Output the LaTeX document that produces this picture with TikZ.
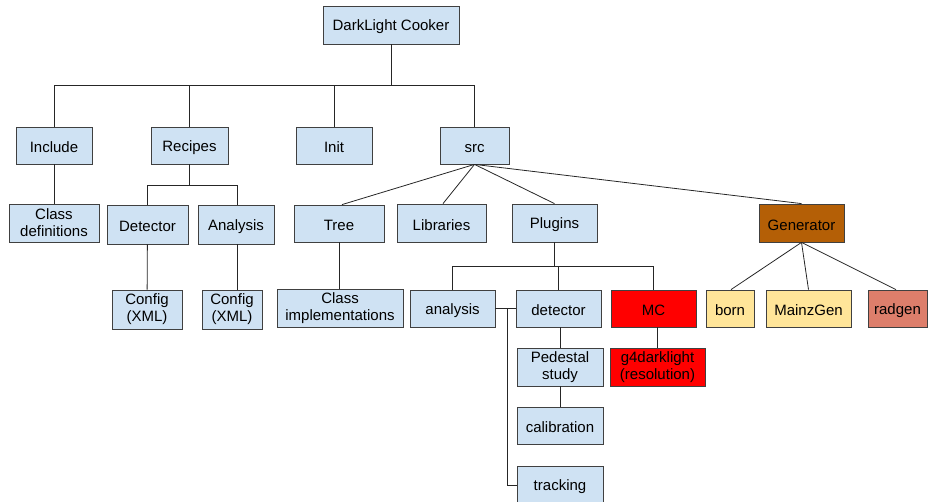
\documentclass[tikz,border=0pt]{standalone}
\usepackage{fontspec}
\setmainfont{Liberation Sans}

\definecolor{boxblue}{HTML}{CFE2F3}
\definecolor{genbrown}{HTML}{B45F06}
\definecolor{genyellow}{HTML}{FFE599}
\definecolor{gensalmon}{HTML}{DD7E6B}
\definecolor{mcred}{HTML}{FF0000}

\tikzset{
  box/.style={draw=black!75, fill=boxblue, minimum height=37pt, inner sep=1pt,
    align=center, font=\fontsize{15}{17}\selectfont,
    execute at begin node={\rule{0pt}{14.5pt}}},
  link/.style={draw=black!85, line width=0.8pt}
}

\begin{document}
\begin{tikzpicture}[x=1pt, y=-1pt, line width=0.8pt]
    \useasboundingbox (0,0) rectangle (928,502);
    % ---------------------------------------------
    \node[box, minimum width=136pt, minimum height=38pt] (cooker) at (391,25) {DarkLight Cooker};

    % top level folders
    \node[box, minimum width=76pt] (include) at (54,145.5) {Include};
    \node[box, minimum width=77pt] (recipes) at (189.5,145.5) {Recipes};
    \node[box, minimum width=76pt] (init) at (334,145.5) {Init};
    \node[box, minimum width=69pt] (src) at (474.5,145.5) {src};
    \coordinate (topbar) at (391,85);

    % include and recipes
    \node[box, minimum width=90pt, minimum height=38pt] (classdef) at (54,223) {Class\\definitions};
    \node[box, minimum width=81pt, minimum height=39pt] (detector) at (147.5,224.5) {Detector};
    \node[box, minimum width=76pt, minimum height=39pt] (analysis) at (236,224.5) {Analysis};
    \node[box, minimum width=70pt, minimum height=39pt] (configdet) at (147,309.5) {Config\\(XML)};
    \node[box, minimum width=60pt, minimum height=39pt] (configana) at (232,309.5) {Config\\(XML)};
    \coordinate (recbar) at (189.5,185);

    % src
    \node[box, minimum width=90pt] (tree) at (339,223.5) {Tree};
    \node[box, minimum width=89pt, minimum height=38pt] (libraries) at (441.5,223) {Libraries};
    \node[box, minimum width=85pt, minimum height=38pt] (plugins) at (554.5,223) {Plugins};
    \node[box, fill=genbrown, minimum width=85pt, minimum height=38pt] (generator) at (801.5,223) {Generator};
    \node[box, minimum width=126pt, minimum height=38pt] (classimpl) at (340,308) {Class\\implementations};

    % plugins
    \node[box, minimum width=85pt] (plugana) at (452.5,308.5) {analysis};
    \node[box, minimum width=85pt] (plugdet) at (558.5,308.5) {detector};
    \node[box, fill=mcred, minimum width=85pt] (mc) at (653.5,308.5) {MC};
    \node[box, minimum width=86pt, minimum height=38pt] (pedestal) at (560,367) {Pedestal\\study};
    \node[box, fill=mcred, minimum width=95pt, minimum height=38pt] (g4) at (657.5,367) {g4darklight\\(resolution)};
    \node[box, minimum width=86pt] (calib) at (560,425.5) {calibration};
    \node[box, minimum width=86pt, minimum height=38pt] (tracking) at (560,485) {tracking};
    \coordinate (plugbar) at (554.5,266);
    \coordinate (split) at (507,309);

    % generators
    \node[box, fill=genyellow, minimum width=48pt] (born) at (730,308.5) {born};
    \node[box, fill=genyellow, minimum width=85pt] (mainzgen) at (808.5,308.5) {MainzGen};
    \node[box, fill=gensalmon, minimum width=59pt] (radgen) at (897.5,308.5) {radgen};

    % connectors
    \draw[link] (cooker) -- (topbar);
    \draw[link] (include.north) |- (topbar);
    \draw[link] (recipes.north) |- (topbar);
    \draw[link] (init.north) |- (topbar);
    \draw[link] (src.north) |- (topbar);

    \draw[link] (include) -- (classdef);
    \draw[link] (recipes) -- (recbar);
    \draw[link] (detector.north) |- (recbar);
    \draw[link] ([xshift=1pt]analysis.north) |- (recbar);
    \draw[link] (detector) -- (configdet);
    \draw[link] ([xshift=1pt]analysis.south) -- ([xshift=1pt]analysis.south |- configana.north);

    \draw[link] (src.south) -- ([xshift=3pt]tree.north);
    \draw[link] (src.south) -- ([xshift=1.5pt]libraries.north);
    \draw[link] (src.south) -- (plugins.north);
    \draw[link] (src.south) -- (generator.north);
    \draw[link] (tree) -- (tree |- classimpl.north);

    \draw[link] (plugins) -- (plugbar);
    \draw[link] (plugana.north) |- (plugbar);
    \draw[link] (plugdet.north) |- (plugbar);
    \draw[link] (mc.north) |- (plugbar);
    \draw[link] (mc.south -| g4) -- (g4.north);
    \draw[link] (plugdet.south -| pedestal) -- (pedestal.north);
    \draw[link] (pedestal) -- (calib);
    \draw[link] (plugana.east) -- (plugdet.west);
    \draw[link] (split) |- (tracking.west);

    \draw[link] (generator.south) -- ([xshift=1pt]born.north);
    \draw[link] (generator.south) -- (mainzgen.north);
    \draw[link] (generator.south) -- ([xshift=-1.5pt]radgen.north);
\end{tikzpicture}
\end{document}
